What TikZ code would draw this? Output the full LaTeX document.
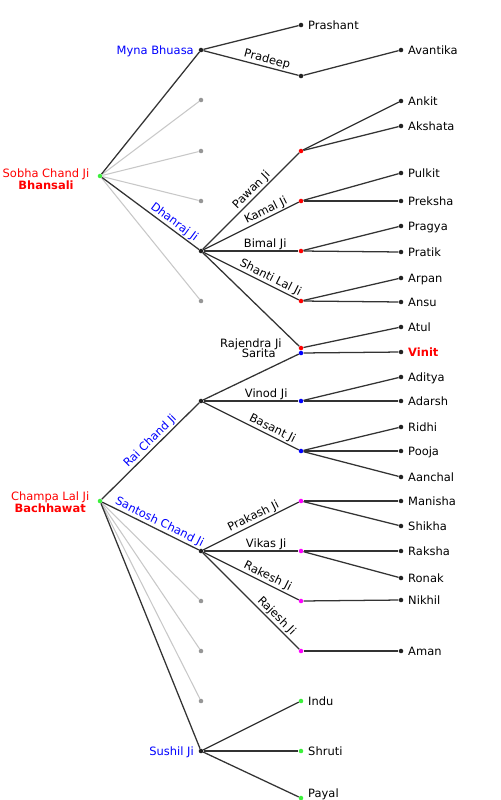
\documentclass[tikz,border=0pt]{standalone}
\usepackage{fontspec}
\setmainfont{DejaVu Sans}
\usetikzlibrary{positioning}
\definecolor{linkgray}{RGB}{51, 51, 51}
\definecolor{ghostgray}{RGB}{200, 200, 200}
\definecolor{dotgray}{RGB}{150, 150, 150}
\definecolor{dotblack}{RGB}{34, 34, 34}
\definecolor{namered}{RGB}{255, 0, 0}
\definecolor{nameblue}{RGB}{0, 0, 255}
\definecolor{dotgreen}{RGB}{60, 240, 60}
\definecolor{dotpink}{RGB}{255, 0, 255}

\begin{document}
\begin{tikzpicture}[x=0.75pt, y=-0.75pt,
  dot/.style={circle, fill=#1, inner sep=0pt, minimum size=3.4pt},
  txt/.style={font=\fontsize{8.6}{9}\selectfont},
  kid/.style={txt, text height=6.3pt, text depth=0pt},
  link/.style={draw=linkgray, line width=0.95pt},
  ghost/.style={draw=ghostgray, line width=0.8pt},
  elbl/.style={txt, sloped, above, inner sep=0.8pt, pos=#1}]
  \useasboundingbox (0,0) rectangle (500,800);

  \node[dot=dotgreen] (sobha) at (100,176) {};
  \node[txt, text=namered, align=center, left=2.6pt of sobha, yshift=-2.3pt] (sobhalbl) {Sobha Chand Ji\\\textbf{Bhansali}};
  \node[dot=dotgreen] (champa) at (100,501) {};
  \node[txt, text=namered, align=center, left=2.6pt of champa, yshift=-1pt] (champalbl) {Champa Lal Ji\\\textbf{Bachhawat}};

  \node[dot=dotblack, label={[kid, text=nameblue]left:Myna Bhuasa}] (myna) at (201,50) {};
  \node[dot=dotblack] (dhanraj) at (201,251) {};
  \node[dot=dotblack] (raichand) at (201,401) {};
  \node[dot=dotblack] (santosh) at (201,551) {};
  \node[dot=dotblack, label={[kid, text=nameblue]left:Sushil Ji}] (sushil) at (201,751) {};
  \node[dot=dotblack] (pradeep) at (301,76) {};

  \foreach \n/\y in {pawan/151, kamal/201, bimal/251, shanti/301, rajendra/348}
    \node[dot=namered] (\n) at (301,\y) {};
  \foreach \n/\y in {sarita/353, vinod/401, basant/451}
    \node[dot=nameblue] (\n) at (301,\y) {};
  \foreach \n/\y in {prakash/501, vikas/551, rakesh/601, rajesh/651}
    \node[dot=dotpink] (\n) at (301,\y) {};
  \node[txt, left=9.1pt of rajendra, yshift=2.5pt] (rajendralbl) {Rajendra Ji};
  \node[txt, left=13.6pt of sarita, yshift=-0.5pt] (saritalbl) {Sarita};

  \foreach \n/\y in {g1/100, g2/151, g3/201, g4/301, g5/601, g6/651, g7/701}
    \node[dot=dotgray] (\n) at (201,\y) {};

  \foreach \n/\x/\y/\t in {prashant/301/25/Prashant, avantika/401/50/Avantika,
      ankit/401/101/Ankit, akshata/401/126/Akshata, pulkit/401/173/Pulkit,
      preksha/401/201/Preksha, pragya/401/226/Pragya, pratik/401/252/Pratik,
      arpan/401/278/Arpan, ansu/401/302/Ansu, atul/401/327/Atul,
      aditya/401/377/Aditya, adarsh/401/401/Adarsh, ridhi/401/427/Ridhi,
      pooja/401/451/Pooja, aanchal/401/477/Aanchal, manisha/401/501/Manisha,
      shikha/401/526/Shikha, raksha/401/551/Raksha, ronak/401/578/Ronak,
      nikhil/401/600/Nikhil, aman/401/651/Aman}
    \node[dot=dotblack, label={[kid]right:\t}] (\n) at (\x,\y) {};
  \node[dot=dotblack, label={[kid, text=namered, font=\fontsize{8.6}{9}\selectfont\bfseries]right:Vinit}] (vinit) at (401,352) {};
  \foreach \n/\y/\t in {indu/701/Indu, shruti/751/Shruti}
    \node[dot=dotgreen, label={[kid]right:\t}] (\n) at (301,\y) {};
  \node[dot=dotgreen, label={[kid, yshift=3.5pt]right:Payal}] (payal) at (301,798) {};

  \foreach \a/\b in {sobha/g1, sobha/g2, sobha/g3, sobha/g4, champa/g5, champa/g6, champa/g7}
    \draw[ghost] (\a) -- (\b);
  \foreach \a/\b in {sobha/myna, myna/prashant, pradeep/avantika, pawan/ankit, pawan/akshata,
      kamal/pulkit, kamal/preksha, bimal/pragya, bimal/pratik, shanti/arpan, shanti/ansu,
      dhanraj/rajendra, rajendra/atul, sarita/vinit, raichand/sarita, vinod/aditya, vinod/adarsh,
      basant/ridhi, basant/pooja, basant/aanchal, prakash/manisha, prakash/shikha,
      vikas/raksha, vikas/ronak, rakesh/nikhil, rajesh/aman, champa/sushil,
      sushil/indu, sushil/shruti, sushil/payal}
    \draw[link] (\a) -- (\b);
  \foreach \a/\b/\t/\p in {myna/pradeep/Pradeep/.65, dhanraj/pawan/Pawan Ji/.56,
      dhanraj/kamal/Kamal Ji/.69, dhanraj/bimal/Bimal Ji/.65, dhanraj/shanti/Shanti Lal Ji/.67,
      raichand/vinod/Vinod Ji/.66, raichand/basant/Basant Ji/.69, santosh/prakash/Prakash Ji/.56,
      santosh/vikas/Vikas Ji/.66, santosh/rakesh/Rakesh Ji/.64, santosh/rajesh/Rajesh Ji/.71}
    \draw[link] (\a) -- node[elbl=\p] {\t} (\b);
  \foreach \a/\b/\t/\p in {sobha/dhanraj/Dhanraj Ji/.7, champa/raichand/Rai Chand Ji/.55,
      champa/santosh/Santosh Chand Ji/.56}
    \draw[link] (\a) -- node[elbl=\p, text=nameblue] {\t} (\b);
\end{tikzpicture}
\end{document}
